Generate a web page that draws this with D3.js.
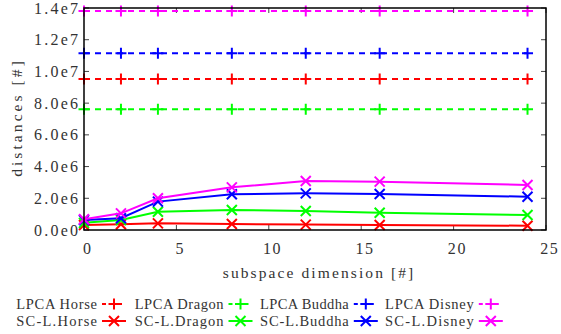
<!DOCTYPE html>
<html lang="en">
<head>
<meta charset="utf-8">
<title>distances vs subspace dimension</title>
<script src="https://cdn.jsdelivr.net/npm/d3@7"></script>
<style>
  body { margin: 0; background: #fff; }
  svg text { font-family: "Liberation Serif", serif; fill: #333; }
</style>
</head>
<body>
<script>
// data
var dims = [0, 2, 4, 8, 12, 16, 24];
var models = ["Horse", "Dragon", "Buddha", "Disney"];
var colors = ["#ff0000", "#00ff00", "#0000ff", "#ff00ff"];

var lpcaHorse  = [9.52e6, 9.52e6, 9.52e6, 9.52e6, 9.52e6, 9.52e6, 9.52e6];
var lpcaDragon = [7.61e6, 7.61e6, 7.61e6, 7.61e6, 7.61e6, 7.61e6, 7.61e6];
var lpcaBuddha = [1.114e7, 1.114e7, 1.114e7, 1.114e7, 1.114e7, 1.114e7, 1.114e7];
var lpcaDisney = [1.381e7, 1.381e7, 1.381e7, 1.381e7, 1.381e7, 1.381e7, 1.381e7];

var sclHorse  = [3.2e5, 3.6e5, 4.2e5, 3.8e5, 3.4e5, 3.2e5, 2.7e5];
var sclDragon = [4.5e5, 6.3e5, 1.15e6, 1.26e6, 1.2e6, 1.09e6, 9.5e5];
var sclBuddha = [6.3e5, 7.4e5, 1.79e6, 2.25e6, 2.31e6, 2.27e6, 2.1e6];
var sclDisney = [6.8e5, 1.05e6, 2.0e6, 2.69e6, 3.09e6, 3.05e6, 2.84e6];

var xTicks = [0, 5, 10, 15, 20, 25];
var yTicks = [0, 2e6, 4e6, 6e6, 8e6, 1e7, 1.2e7, 1.4e7];
var yTickLabels = ["0.0e0", "2.0e6", "4.0e6", "6.0e6", "8.0e6", "1.0e7", "1.2e7", "1.4e7"];

var lpcaSeries = [lpcaHorse, lpcaDragon, lpcaBuddha, lpcaDisney];
var sclSeries = [sclHorse, sclDragon, sclBuddha, sclDisney];

var w = 561, h = 334;
var pLeft = 84, pRight = 546, pTop = 8, pBottom = 230;

var svg = d3.select("body").append("svg")
    .attr("width", w)
    .attr("height", h);

var x = d3.scaleLinear().domain([0, 25]).range([pLeft, pRight]);
var y = d3.scaleLinear().domain([0, 1.4e7]).range([pBottom, pTop]);

// fixed width per character, the original font is monospaced
function mono(sel, perChar) {
    sel.attr("textLength", function() { return this.textContent.length * perChar; })
       .attr("lengthAdjust", "spacing");
}

// tick marks, inward, mirrored on all four sides
var tickLen = 5;
var g = svg.append("g").attr("stroke", "#444").attr("stroke-width", 1);
xTicks.forEach(function(t) {
    g.append("line").attr("x1", x(t)).attr("x2", x(t)).attr("y1", pBottom).attr("y2", pBottom - tickLen);
    g.append("line").attr("x1", x(t)).attr("x2", x(t)).attr("y1", pTop).attr("y2", pTop + tickLen);
});
yTicks.forEach(function(t) {
    g.append("line").attr("x1", pLeft).attr("x2", pLeft + tickLen).attr("y1", y(t)).attr("y2", y(t));
    g.append("line").attr("x1", pRight).attr("x2", pRight - tickLen).attr("y1", y(t)).attr("y2", y(t));
});

// tick labels
svg.selectAll(".xl").data(xTicks).enter().append("text")
    .attr("x", function(d) { return x(d) + 3; })
    .attr("y", 254)
    .attr("text-anchor", "middle")
    .attr("font-size", 16)
    .text(function(d) { return d; })
    .call(mono, 8.8);

svg.selectAll(".yl").data(yTicks).enter().append("text")
    .attr("x", pLeft - 6)
    .attr("y", function(d) { return y(d) + 5.5; })
    .attr("text-anchor", "end")
    .attr("font-size", 16)
    .text(function(d, i) { return yTickLabels[i]; })
    .call(mono, 8.8);

// axis titles
svg.append("text")
    .attr("x", 318).attr("y", 278)
    .attr("text-anchor", "middle")
    .attr("font-size", 15.5)
    .text("subspace dimension [#]")
    .call(mono, 8.66);

svg.append("text")
    .attr("transform", "translate(22,119) rotate(-90)")
    .attr("text-anchor", "middle")
    .attr("font-size", 15.5)
    .text("distances [#]")
    .call(mono, 8.9);

var line = d3.line()
    .x(function(d, i) { return x(dims[i]); })
    .y(function(d) { return y(d); });

function plus(sel, cx, cy, s) {
    sel.append("path").attr("d", "M" + (cx - s) + "," + cy + "h" + (2 * s) + "M" + cx + "," + (cy - s) + "v" + (2 * s));
}
function cross(sel, cx, cy, s) {
    sel.append("path").attr("d", "M" + (cx - s) + "," + (cy - s) + "l" + (2 * s) + "," + (2 * s) + "M" + (cx - s) + "," + (cy + s) + "l" + (2 * s) + "," + (-2 * s));
}

var plot = svg.append("g");

// LPCA: dashed with plus marks
lpcaSeries.forEach(function(vals, k) {
    var s = plot.append("g").attr("stroke", colors[k]).attr("fill", "none").attr("stroke-width", 2);
    s.append("path").attr("d", line(vals)).attr("stroke-dasharray", "6,5");
    vals.forEach(function(v, i) { plus(s, x(dims[i]), y(v), 5.5); });
});

// SC-L: solid with cross marks
sclSeries.forEach(function(vals, k) {
    var s = plot.append("g").attr("stroke", colors[k]).attr("fill", "none").attr("stroke-width", 2);
    s.append("path").attr("d", line(vals));
    vals.forEach(function(v, i) { cross(s, x(dims[i]), y(v), 5); });
});

// frame
svg.append("rect")
    .attr("x", pLeft).attr("y", pTop)
    .attr("width", pRight - pLeft).attr("height", pBottom - pTop)
    .attr("fill", "none").attr("stroke", "#000").attr("stroke-width", 1.5);

// legend
var legX = [114, 240.5, 365.8, 490.8];
var legY = [304, 321];
models.forEach(function(m, k) {
    [0, 1].forEach(function(row) {
        var label = row === 0 ? "LPCA " + m : "SC-L." + m;
        var ly = legY[row];
        svg.append("text")
            .attr("x", legX[k] - 17).attr("y", ly + 5)
            .attr("text-anchor", "end")
            .attr("font-size", 14.5)
            .text(label)
            .call(mono, 8.07);
        var s = svg.append("g").attr("stroke", colors[k]).attr("stroke-width", 2).attr("fill", "none");
        if (row === 0) {
            s.append("line").attr("x1", legX[k] - 12).attr("x2", legX[k] + 12)
                .attr("y1", ly).attr("y2", ly).attr("stroke-dasharray", "4,4");
            plus(s, legX[k], ly, 5.5);
        } else {
            s.append("line").attr("x1", legX[k] - 12).attr("x2", legX[k] + 12)
                .attr("y1", ly).attr("y2", ly);
            cross(s, legX[k], ly, 5);
        }
    });
});
</script>
</body>
</html>
